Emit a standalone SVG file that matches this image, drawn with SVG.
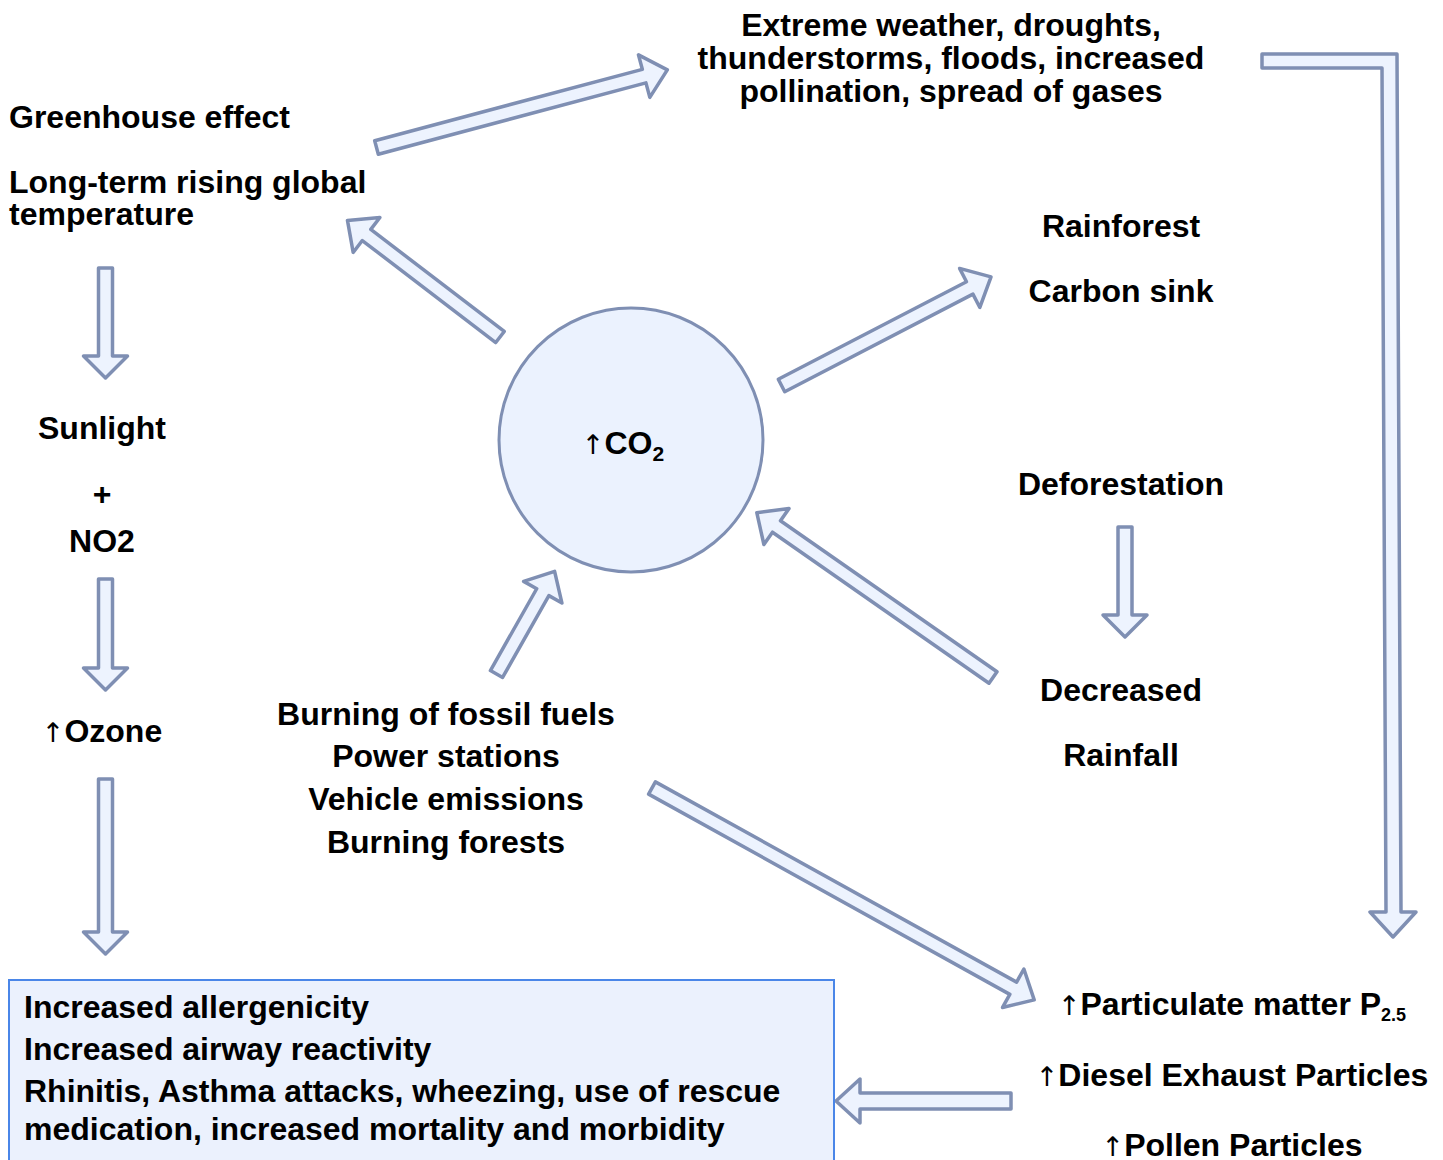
<svg xmlns="http://www.w3.org/2000/svg" width="1443" height="1160" viewBox="0 0 1443 1160">
<style>
.arr{fill:#EDF3FE;stroke:#7F8FB3;stroke-width:3.5;stroke-linejoin:round}
.t{font-family:"Liberation Sans",Arial,sans-serif;font-weight:bold;font-size:32px;fill:#000}
.c{text-anchor:middle}
.up{font-family:"DejaVu Sans",sans-serif;font-weight:normal;font-size:27px}
</style>
<rect width="1443" height="1160" fill="#fff"/>
<g id="connectors">
<polygon class="arr" transform="translate(376.5,147.5) rotate(-14.94)" points="0,-7 277,-7 277,-22 301,0 277,22 277,7 0,7"/>
<polygon class="arr" transform="translate(500,337) rotate(217.4)" points="0,-7 168,-7 168,-22 192,0 168,22 168,7 0,7"/>
<polygon class="arr" transform="translate(781.5,385.5) rotate(-27.4)" points="0,-7 212,-7 212,-22 236,0 212,22 212,7 0,7"/>
<polygon class="arr" transform="translate(993,677.5) rotate(214.9)" points="0,-7 264,-7 264,-22 288,0 264,22 264,7 0,7"/>
<polygon class="arr" transform="translate(496.5,674) rotate(-60.5)" points="0,-7 94,-7 94,-22 118,0 94,22 94,7 0,7"/>
<polygon class="arr" transform="translate(652,788) rotate(29)" points="0,-7 413,-7 413,-22 437,0 413,22 413,7 0,7"/>
<polygon class="arr" transform="translate(1011,1101) rotate(180)" points="0,-8 151,-8 151,-22 175,0 151,22 151,8 0,8"/>
<polygon class="arr" transform="translate(105.5,268) rotate(90)" points="0,-7 88,-7 88,-22 110,0 88,22 88,7 0,7"/>
<polygon class="arr" transform="translate(105.5,579) rotate(90)" points="0,-7 89,-7 89,-22 111,0 89,22 89,7 0,7"/>
<polygon class="arr" transform="translate(105.5,779) rotate(90)" points="0,-7 153,-7 153,-22 175,0 153,22 153,7 0,7"/>
<polygon class="arr" transform="translate(1125,527) rotate(90)" points="0,-7 88,-7 88,-22 110,0 88,22 88,7 0,7"/>
<path class="arr" d="M1262,54 L1397,54 L1401,912 L1416,912 L1393,937 L1370,912 L1386,912 L1382,68 L1262,68 Z"/>
</g>
<g id="co2">
<circle cx="631" cy="440" r="132" fill="#EBF2FE" stroke="#7F8FB3" stroke-width="3"/>
<text class="t c" x="623" y="454" font-size="34"><tspan class="up" font-size="29">↑</tspan>CO<tspan font-size="21" dy="7">2</tspan></text>
</g>
<g id="extreme">
<text class="t c" x="951" y="36">Extreme weather, droughts,</text>
<text class="t c" x="951" y="69">thunderstorms, floods, increased</text>
<text class="t c" x="951" y="102">pollination, spread of gases</text>
</g>
<g id="greenhouse">
<text class="t" x="9" y="128">Greenhouse effect</text>
<text class="t" x="9" y="193">Long-term rising global</text>
<text class="t" x="9" y="225">temperature</text>
</g>
<g id="rainforest">
<text class="t c" x="1121" y="237">Rainforest</text>
<text class="t c" x="1121" y="302">Carbon sink</text>
</g>
<g id="deforestation">
<text class="t c" x="1121" y="495">Deforestation</text>
</g>
<g id="rainfall">
<text class="t c" x="1121" y="701">Decreased</text>
<text class="t c" x="1121" y="766">Rainfall</text>
</g>
<g id="sunlight">
<text class="t c" x="102" y="439">Sunlight</text>
<text class="t c" x="102" y="505">+</text>
<text class="t c" x="102" y="552">NO2</text>
</g>
<g id="ozone">
<text class="t c" x="102" y="742"><tspan class="up">↑</tspan>Ozone</text>
</g>
<g id="sources">
<text class="t c" x="446" y="725">Burning of fossil fuels</text>
<text class="t c" x="446" y="767">Power stations</text>
<text class="t c" x="446" y="810">Vehicle emissions</text>
<text class="t c" x="446" y="853">Burning forests</text>
</g>
<g id="particles">
<text class="t c" x="1232" y="1015"><tspan class="up">↑</tspan>Particulate matter P<tspan font-size="18" dy="6">2.5</tspan></text>
<text class="t c" x="1232" y="1086"><tspan class="up">↑</tspan>Diesel Exhaust Particles</text>
<text class="t c" x="1232" y="1156"><tspan class="up">↑</tspan>Pollen Particles</text>
</g>
<g id="effects">
<rect x="9" y="980" width="825" height="200" fill="#EBF1FD" stroke="#4A86E8" stroke-width="2"/>
<text class="t" x="24" y="1018">Increased allergenicity</text>
<text class="t" x="24" y="1060">Increased airway reactivity</text>
<text class="t" x="24" y="1102">Rhinitis, Asthma attacks, wheezing, use of rescue</text>
<text class="t" x="24" y="1140">medication, increased mortality and morbidity</text>
</g>
</svg>
